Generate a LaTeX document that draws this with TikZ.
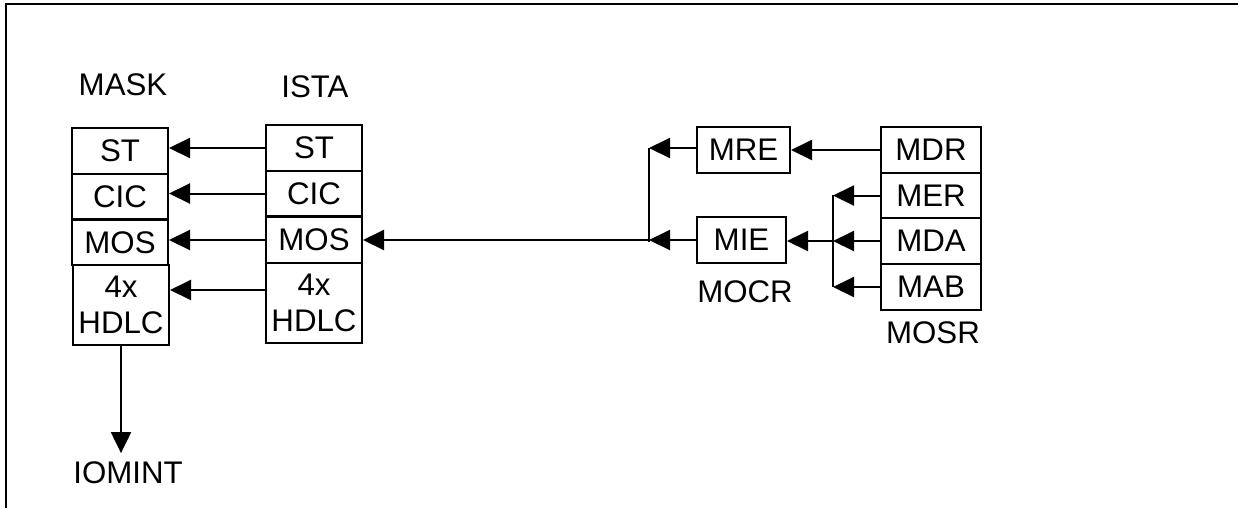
\documentclass[tikz,border=0pt]{standalone}
\usepackage{fontspec}
\setmainfont{Liberation Sans}
\usetikzlibrary{arrows.meta}

\begin{document}
\begin{tikzpicture}[x=0.4pt,y=-0.4pt,
    font=\fontsize{12.5}{14.4}\selectfont,
    reg/.style={draw, line width=0.8pt, minimum width=38.4pt, minimum height=18.2pt, inner sep=0pt, align=center},
    reg2/.style={reg, minimum height=32pt},
    conn/.style={line width=0.8pt, -{Triangle[length=8.4pt,width=8pt]}}]
    \useasboundingbox (0,0) rectangle (1238,508);
    \draw[line width=0.5pt] (1238,4) -- (6,4) -- (6,508);
    % MASK
    \node (mask) at (123,85) {MASK};
    \node[reg] (mST) at (120,151) {ST};
    \node[reg] (mCIC) at (120,196.5) {CIC};
    \node[reg] (mMOS) at (120,242.5) {MOS};
    \node[reg2] (mHDLC) at (121,305) {4x\\HDLC};
    % ISTA
    \node (ista) at (315,87) {ISTA};
    \node[reg] (iST) at (314,148) {ST};
    \node[reg] (iCIC) at (314,193.5) {CIC};
    \node[reg] (iMOS) at (314,240) {MOS};
    \node[reg2] (iHDLC) at (314,303) {4x\\HDLC};
    % MOCR
    \node[reg, minimum width=37.2pt] (mre) at (743.5,150) {MRE};
    \node[reg, minimum width=35.6pt] (mie) at (741.5,240) {MIE};
    \node (mocr) at (745,292) {MOCR};
    % MOSR
    \node[reg, minimum width=40pt] (mdr) at (931,150) {MDR};
    \node[reg, minimum width=40pt] (mer) at (931,195.5) {MER};
    \node[reg, minimum width=40pt] (mda) at (931,241) {MDA};
    \node[reg, minimum width=40pt] (mab) at (931,287) {MAB};
    \node (mosr) at (933,333) {MOSR};
    \node (iomint) at (128,473) {IOMINT};
    % ISTA -> MASK
    \coordinate (hdlcIn) at ([yshift=5.2pt]iHDLC.west);
    \draw[conn] (iST.west) -- (iST.west -| mST.east);
    \draw[conn] (iCIC.west) -- (iCIC.west -| mCIC.east);
    \draw[conn] (iMOS.west) -- (iMOS.west -| mMOS.east);
    \draw[conn] (hdlcIn) -- (hdlcIn -| mHDLC.east);
    \draw[conn] (mHDLC.south) -- (mHDLC.south |- iomint.north);
    % MOCR -> ISTA
    \coordinate (busL) at (649,148);
    \coordinate (busL2) at (649,242);
    \draw[line width=0.8pt] (busL) -- (busL2);
    \draw[conn] ([yshift=0.8pt]mre.west) -- ([yshift=0.8pt]mre.west -| busL);
    \draw[conn] (mie.west) -- (mie.west -| busL);
    \draw[conn] (mie.west -| busL) -- (iMOS.east);
    % MOSR -> MOCR
    \coordinate (busR) at (833,195);
    \coordinate (busR2) at (833,287);
    \draw[line width=0.8pt] (busR) -- (busR2);
    \draw[conn] (mdr.west) -- (mre.east);
    \draw[conn] (mer.west) -- (mer.west -| busR);
    \draw[conn] (mda.west) -- (mda.west -| busR);
    \draw[conn] (mab.west) -- (mab.west -| busR);
    \draw[conn] (mda.west -| busR) -- (mda.west -| mie.east);
\end{tikzpicture}
\end{document}
